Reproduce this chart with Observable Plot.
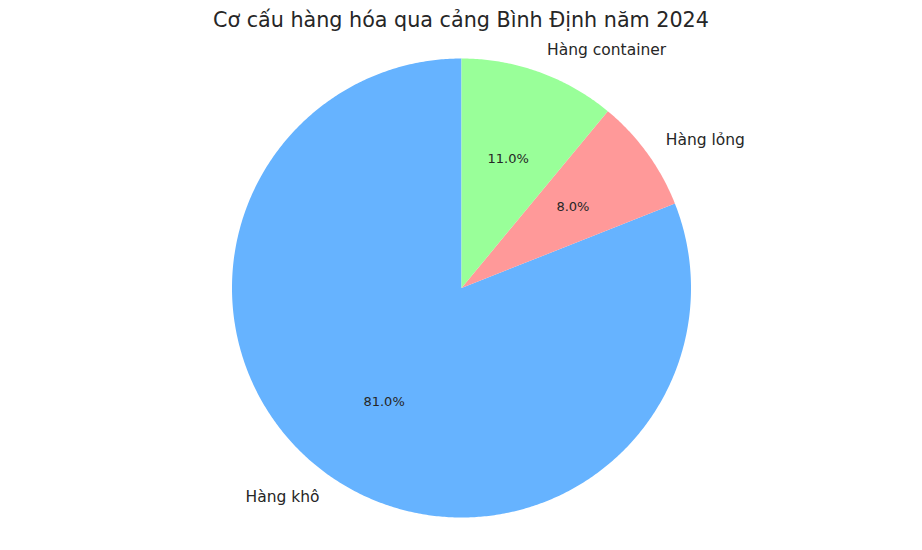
<!DOCTYPE html>
<html>
<head>
<meta charset="utf-8">
<script src="https://cdn.jsdelivr.net/npm/d3@7"></script>
<script src="https://cdn.jsdelivr.net/npm/@observablehq/plot@0.6"></script>
<style>
  html, body { margin: 0; padding: 0; background: #ffffff; }
  #title { width: 922px; height: 40px; line-height: 41px; text-align: center;
           font-family: "DejaVu Sans", sans-serif; font-size: 20.7px; color: #262626; }
  #chart svg { display: block; }
</style>
</head>
<body>
<div id="title">Cơ cấu hàng hóa qua cảng Bình Định năm 2024</div>
<div id="chart"></div>
<script>
const categories = ["Hàng khô", "Hàng lỏng", "Hàng container"];
const values = [81, 8, 11];
const colors = ["#66b3ff", "#ff9999", "#99ff99"];
const startAngle = 90; // degrees, counterclockwise as in matplotlib

// Layout
const W = 922, H = 510, R = 229.5, CX = 461, CY = 247.5;

const total = d3.sum(values);
const slices = [];
let acc = startAngle;
categories.forEach((cat, i) => {
  const sweep = values[i] / total * 360;
  slices.push({cat, value: values[i], a0: acc, a1: acc + sweep});
  acc += sweep;
});
const rad = (d) => d * Math.PI / 180;

const wedgePts = [];
for (const s of slices) {
  wedgePts.push({cat: s.cat, x: 0, y: 0});
  const n = Math.ceil((s.a1 - s.a0) / 0.5);
  for (let k = 0; k <= n; k++) {
    const a = rad(s.a0 + (s.a1 - s.a0) * k / n);
    wedgePts.push({cat: s.cat, x: Math.cos(a), y: Math.sin(a)});
  }
  wedgePts.push({cat: s.cat, x: 0, y: 0});
}

const labels = slices.map(s => {
  const m = rad((s.a0 + s.a1) / 2);
  return {
    cat: s.cat,
    lx: 1.1 * Math.cos(m), ly: 1.1 * Math.sin(m),
    px: 0.6 * Math.cos(m), py: 0.6 * Math.sin(m),
    pct: (s.value / total * 100).toFixed(1) + "%"
  };
});

const chart = Plot.plot({
  width: W, height: H,
  margin: 0,
  style: {fontFamily: "DejaVu Sans, sans-serif", background: "#ffffff", color: "#262626"},
  x: {domain: [-CX / R, (W - CX) / R], axis: null},
  y: {domain: [-(H - CY) / R, CY / R], axis: null},
  color: {domain: categories, range: colors},
  marks: [
    Plot.line(wedgePts, {x: "x", y: "y", z: "cat", fill: "cat", stroke: "none", curve: "linear"}),
    Plot.text(labels.filter(d => d.lx >= 0), {x: "lx", y: "ly", text: "cat", textAnchor: "start", fontSize: 15.5, fill: "#262626"}),
    Plot.text(labels.filter(d => d.lx < 0), {x: "lx", y: "ly", text: "cat", textAnchor: "end", fontSize: 15.5, fill: "#262626"}),
    Plot.text(labels, {x: "px", y: "py", text: "pct", fontSize: 13, fill: "#262626"})
  ]
});
document.getElementById("chart").appendChild(chart);
</script>
</body>
</html>
